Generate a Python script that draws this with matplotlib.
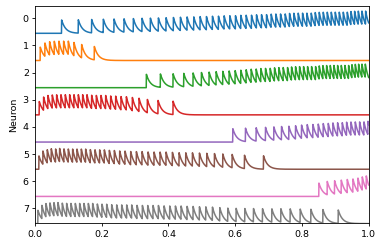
"""Filtered spike trains of eight neurons, one row per neuron.

Each row shows the synaptic trace of a neuron: a jump at every spike,
then an exponential decay back to the resting level of the row.

Output:
    out.png
"""

import matplotlib
matplotlib.use("Agg")
import matplotlib.pyplot as plt
import numpy as np

# Spike times (s), one list per neuron.
spikes_0 = [0.080, 0.130, 0.170, 0.205, 0.237, 0.267, 0.295, 0.321, 0.346,
            0.370, 0.393, 0.415, 0.436, 0.456, 0.476, 0.495, 0.514, 0.532,
            0.550, 0.567, 0.584, 0.601, 0.617, 0.633, 0.649, 0.664, 0.679,
            0.694, 0.708, 0.722, 0.736, 0.750, 0.763, 0.776, 0.789, 0.802,
            0.815, 0.828, 0.840, 0.852, 0.864, 0.876, 0.888, 0.900, 0.912,
            0.924, 0.936, 0.947, 0.958, 0.969, 0.980, 0.991]
spikes_1 = [0.016, 0.030, 0.044, 0.058, 0.072, 0.086, 0.100, 0.117, 0.140,
            0.178]
spikes_2 = [0.334, 0.376, 0.414, 0.446, 0.474, 0.499, 0.522, 0.543, 0.563,
            0.582, 0.600, 0.617, 0.633, 0.648, 0.663, 0.677, 0.691, 0.705,
            0.718, 0.731, 0.744, 0.757, 0.769, 0.781, 0.793, 0.805, 0.817,
            0.829, 0.841, 0.852, 0.863, 0.874, 0.885, 0.896, 0.907, 0.918,
            0.929, 0.940, 0.950, 0.960, 0.970, 0.980, 0.990]
spikes_3 = [0.013, 0.026, 0.039, 0.052, 0.065, 0.078, 0.091, 0.104, 0.117,
            0.130, 0.143, 0.156, 0.170, 0.184, 0.198, 0.212, 0.227, 0.242,
            0.258, 0.274, 0.292, 0.312, 0.337, 0.369, 0.414]
spikes_4 = [0.593, 0.631, 0.663, 0.691, 0.716, 0.739, 0.761, 0.781, 0.799,
            0.816, 0.833, 0.849, 0.864, 0.879, 0.893, 0.907, 0.921, 0.934,
            0.947, 0.960, 0.973, 0.986, 0.998]
spikes_5 = [0.012, 0.024, 0.037, 0.049, 0.062, 0.074, 0.087, 0.100, 0.113,
            0.126, 0.139, 0.152, 0.166, 0.180, 0.194, 0.208, 0.223, 0.238,
            0.254, 0.270, 0.287, 0.304, 0.321, 0.339, 0.357, 0.375, 0.393,
            0.412, 0.432, 0.452, 0.472, 0.493, 0.515, 0.538, 0.563, 0.591,
            0.628, 0.685]
spikes_6 = [0.851, 0.876, 0.898, 0.918, 0.936, 0.953, 0.968, 0.981, 0.993]
spikes_7 = [0.009, 0.021, 0.033, 0.045, 0.057, 0.069, 0.082, 0.095, 0.108,
            0.121, 0.134, 0.147, 0.160, 0.173, 0.187, 0.201, 0.215, 0.230,
            0.245, 0.260, 0.275, 0.290, 0.306, 0.322, 0.338, 0.354, 0.370,
            0.387, 0.404, 0.421, 0.438, 0.456, 0.474, 0.493, 0.512, 0.532,
            0.554, 0.578, 0.603, 0.629, 0.655, 0.682, 0.710, 0.737, 0.765,
            0.795, 0.827, 0.863, 0.909]

neuron_labels = ["0", "1", "2", "3", "4", "5", "6", "7"]
x_ticks = [0.0, 0.2, 0.4, 0.6, 0.8, 1.0]

DT = 0.0005
TAU = 0.012          # decay time constant of the trace (s)
JUMP = 0.49          # trace increment per spike
REST = 0.556         # resting level below each row's tick


def trace(spike_times, t):
    """Exponentially decaying trace that jumps by JUMP at each spike."""
    idx = np.searchsorted(t, spike_times)
    kick = np.zeros_like(t)
    np.add.at(kick, idx, JUMP)
    out = np.zeros_like(t)
    decay = np.exp(-DT / TAU)
    level = 0.0
    for k in range(len(t)):
        level = level * decay + kick[k]
        out[k] = level
    return out


def main() -> None:
    t = np.arange(0.0, 1.0 + DT, DT)
    all_spikes = [spikes_0, spikes_1, spikes_2, spikes_3,
                  spikes_4, spikes_5, spikes_6, spikes_7]

    fig = plt.figure(figsize=(3.84, 2.48), dpi=100)
    ax = fig.add_axes([0.091, 0.099, 0.869, 0.877])

    for i, s in enumerate(all_spikes):
        ax.plot(t, i + REST - trace(np.array(s), t), linewidth=1.1)

    ax.set_xlim(0, 1)
    ax.set_ylim(7.55, -0.45)
    ax.set_yticks(range(len(neuron_labels)))
    ax.set_yticklabels(neuron_labels)
    ax.set_xticks(x_ticks)
    ax.tick_params(labelsize=6.8, length=2.4, width=0.6, pad=2)
    for sp in ax.spines.values():
        sp.set_linewidth(0.6)
    ax.set_ylabel("Neuron", fontsize=6.8, labelpad=3)

    fig.savefig("out.png", dpi=100)
    plt.close(fig)


if __name__ == "__main__":
    main()
